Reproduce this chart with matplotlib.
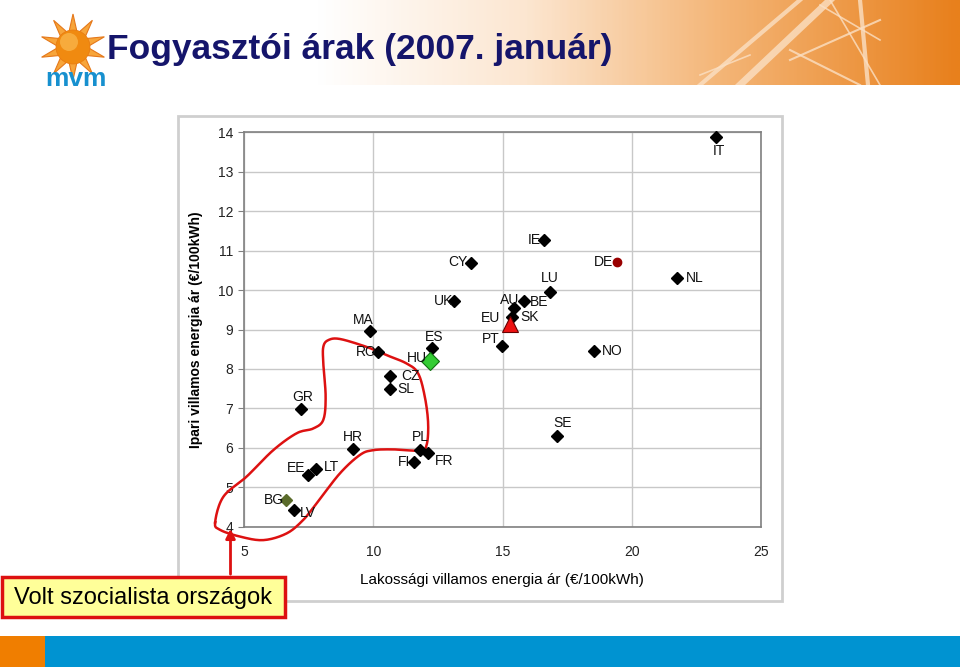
import numpy as np
import matplotlib
matplotlib.use('Agg')
import matplotlib.pyplot as plt
from matplotlib.patches import Rectangle, Polygon, Circle, FancyArrowPatch
from matplotlib.colors import LinearSegmentedColormap

plt.rcParams['font.family'] = ['Liberation Sans', 'DejaVu Sans']

# data
countries = ['BG', 'LV', 'EE', 'LT', 'GR', 'HR', 'MA', 'RO', 'ES', 'HU', 'CZ', 'SL',
             'PL', 'FI', 'FR', 'CY', 'UK', 'IE', 'DE', 'LU', 'NL', 'BE', 'AU', 'SK',
             'EU', 'PT', 'NO', 'SE', 'IT']
household = [6.61, 6.91, 7.48, 7.77, 7.19, 9.22, 9.86, 10.17, 12.27, 12.21, 10.65, 10.65,
             11.80, 11.58, 12.12, 13.77, 13.12, 16.61, 19.44, 16.84, 21.75, 15.82, 15.43, 15.37,
             15.28, 14.98, 18.54, 17.12, 23.28]
industry = [4.68, 4.42, 5.31, 5.46, 6.98, 5.97, 8.97, 8.42, 8.53, 8.20, 7.83, 7.50,
            5.95, 5.64, 5.86, 10.69, 9.72, 11.26, 10.70, 9.95, 10.31, 9.71, 9.55, 9.32,
            9.14, 8.57, 8.45, 6.31, 13.89]

# label placement (pixels offset, alignment)
label_pos = {
    'BG': (-2, 0, 'right'), 'LV': (6, -3, 'left'), 'EE': (-3, 7, 'right'),
    'LT': (8, 2, 'left'), 'GR': (2, 12, 'center'), 'HR': (0, 12, 'center'),
    'MA': (-7, 11, 'center'), 'RO': (-1, 0, 'right'), 'ES': (2, 11, 'center'),
    'HU': (-3, 3, 'right'), 'CZ': (11, 0, 'left'), 'SL': (7, 0, 'left'),
    'PL': (0, 13, 'center'), 'FI': (-4, 0, 'right'), 'FR': (7, -8, 'left'),
    'CY': (-3, 1, 'right'), 'UK': (-1, 0, 'right'), 'IE': (-3, 0, 'right'),
    'DE': (-4, 0, 'right'), 'LU': (0, 14, 'center'), 'NL': (9, 0, 'left'),
    'BE': (6, -1, 'left'), 'AU': (-4, 8, 'center'), 'SK': (8, 0, 'left'),
    'EU': (-9, 6, 'right'), 'PT': (-2, 7, 'right'), 'NO': (8, 0, 'left'),
    'SE': (5, 13, 'center'), 'IT': (3, -14, 'center'),
}

# hand drawn loop around former socialist countries (data coords)
loop_x = [3.87, 4.19, 5.09, 6.12, 7.03, 7.67, 8.06, 8.15, 8.06, 8.06, 8.25, 8.70, 9.73,
          10.51, 11.28, 11.73, 11.99, 12.12, 12.06, 11.80, 10.76, 9.99, 9.48, 8.70, 7.80,
          7.28, 6.64, 5.74, 4.83, 4.06]
loop_y = [4.11, 4.76, 5.27, 5.94, 6.37, 6.49, 6.71, 7.30, 8.14, 8.56, 8.73, 8.76, 8.56,
          8.35, 8.14, 7.89, 7.30, 6.62, 6.07, 5.93, 5.96, 5.94, 5.82, 5.35, 4.59,
          4.17, 3.83, 3.66, 3.75, 3.92]


def smooth_closed(xs, ys, n=12):
    # periodic catmull-rom through the given points
    p = np.column_stack([xs, ys])
    out = []
    m = len(p)
    for i in range(m):
        p0, p1, p2, p3 = p[i - 1], p[i], p[(i + 1) % m], p[(i + 2) % m]
        for t in np.linspace(0, 1, n, endpoint=False):
            t2, t3 = t * t, t * t * t
            out.append(0.5 * ((2 * p1) + (-p0 + p2) * t + (2 * p0 - 5 * p1 + 4 * p2 - p3) * t2
                              + (-p0 + 3 * p1 - 3 * p2 + p3) * t3))
    out.append(out[0])
    out = np.array(out)
    return out[:, 0], out[:, 1]


W, H = 960, 667
fig = plt.figure(figsize=(9.6, 6.67), dpi=100)
fig.patch.set_facecolor('white')

# header band with gradient
hdr = fig.add_axes([0, 1 - 85 / H, 1, 85 / H])
hdr.set_axis_off()
cmap = LinearSegmentedColormap.from_list('hdr', [(0, 'white'), (0.33, 'white'), (0.55, '#FCE6D0'),
                                                 (0.75, '#F4B678'), (1.0, '#E8801C')])
grad = np.tile(np.linspace(0, 1, 400), (10, 1))
hdr.imshow(grad, cmap=cmap, aspect='auto', extent=[0, W, 85, 0])
for (x0, y0, x1, y1, lw) in [(700, 85, 800, 0, 3), (740, 85, 830, 0, 5), (790, 60, 880, 20, 1.5),
                              (790, 50, 860, 85, 1.5), (830, 0, 880, 85, 1.2), (860, 0, 868, 85, 3),
                              (820, 5, 880, 40, 1.2), (700, 75, 750, 55, 1.2)]:
    hdr.plot([x0, x1], [y0, y1], color='#FBE0C4', lw=lw, alpha=0.8)
hdr.set_xlim(0, W)
hdr.set_ylim(85, 0)

# logo
logo = fig.add_axes([0, 1 - 100 / H, 130 / W, 100 / H])
logo.set_axis_off()
logo.set_xlim(0, 130)
logo.set_ylim(100, 0)
cx, cy = 73, 47
for k in range(10):
    a = np.pi / 2 + k * 2 * np.pi / 10
    tip = (cx + 33 * np.cos(a), cy - 33 * np.sin(a))
    b1 = (cx + 15 * np.cos(a + 0.28), cy - 15 * np.sin(a + 0.28))
    b2 = (cx + 15 * np.cos(a - 0.28), cy - 15 * np.sin(a - 0.28))
    logo.add_patch(Polygon([tip, b1, b2], closed=True, facecolor='#F7A53A', edgecolor='#E5781A', lw=0.8))
logo.add_patch(Circle((cx, cy), 17, facecolor='#F08A10', edgecolor='#E87A10', lw=0.5))
logo.add_patch(Circle((cx - 4, cy - 5), 9, facecolor='#F9B448', edgecolor='none', alpha=0.8))
logo.text(cx + 3, 79, 'mvm', ha='center', va='center', fontsize=19, fontweight='bold',
          color='#1790CF')

fig.text(107 / W, 1 - 50 / H, 'Fogyasztói árak (2007. január)', fontsize=25.5, color='#15156B',
         ha='left', va='center', fontweight='bold')

# chart frame
fig.patches.append(Rectangle((178 / W, 1 - 601 / H), 604 / W, 485 / H, transform=fig.transFigure,
                             facecolor='white', edgecolor='#CFCFCF', lw=2, zorder=-5))

ax = fig.add_axes([244.3 / W, 1 - 526.7 / H, 516.4 / W, 394.4 / H])
ax.patch.set_alpha(0)
ax.set_xlim(5, 25)
ax.set_ylim(4, 14)
ax.set_xticks([5, 10, 15, 20, 25])
ax.set_yticks(range(4, 15))
ax.grid(True, color='#C8C8C8', lw=1)
ax.set_axisbelow(True)
for s in ax.spines.values():
    s.set_color('#808080')
    s.set_linewidth(1.2)
ax.tick_params(axis='y', length=4, color='#808080', labelsize=10, pad=4, labelcolor='#222222')
ax.tick_params(axis='x', length=0, labelsize=10, pad=13, labelcolor='#222222')

styles = {'HU': dict(marker='D', ms=9.5, mfc='#33CC33', mec='#107010', mew=0.8),
          'EU': dict(marker='^', ms=11, mfc='#EE1111', mec='#660000', mew=0.8),
          'DE': dict(marker='o', ms=6, mfc='#990000', mec='#990000'),
          'BG': dict(marker='D', ms=6, mfc='#5A6B2A', mec='#5A6B2A')}
default = dict(marker='D', ms=6, mfc='black', mec='black')

for c, x, y in zip(countries, household, industry):
    st = styles.get(c, default)
    ax.plot([x], [y], ls='none', zorder=4, clip_on=False, **st)
    dx, dy, ha = label_pos[c]
    ax.annotate(c, (x, y), xytext=(dx, dy), textcoords='offset pixels', ha=ha, va='center',
                fontsize=10, color='#111111', zorder=5, annotation_clip=False)

lx, ly = smooth_closed(loop_x, loop_y)
ax.plot(lx, ly, color='#DD1111', lw=1.8, clip_on=False, zorder=3)

ax.set_ylabel('Ipari villamos energia ár (€/100kWh)', fontsize=10, fontweight='bold')
ax.yaxis.set_label_coords((203 - 244.3) / 516.4, 0.5)
ax.set_xlabel('Lakossági villamos energia ár (€/100kWh)', fontsize=11)
ax.xaxis.set_label_coords((502 - 244.3) / 516.4, -(573 - 526.7) / 394.4)

# callout box and arrow
fig.patches.append(Rectangle((2 / W, 1 - 617 / H), 283 / W, 40 / H, transform=fig.transFigure,
                             facecolor='#FFFF99', edgecolor='#DD1111', lw=2.5, zorder=5))
fig.text(143 / W, 1 - 598 / H, 'Volt szocialista országok', fontsize=17, ha='center', va='center',
         color='black', zorder=6)
fig.add_artist(FancyArrowPatch((230.5 / W, 1 - 577 / H), (230.5 / W, 1 - 526 / H),
                               transform=fig.transFigure, arrowstyle='-|>',
                               mutation_scale=14, color='#DD1111', lw=2, zorder=6))

# bottom band
fig.patches.append(Rectangle((0, 0), 45 / W, 31 / H, transform=fig.transFigure,
                             facecolor='#F07E00', edgecolor='none'))
fig.patches.append(Rectangle((45 / W, 0), 915 / W, 31 / H, transform=fig.transFigure,
                             facecolor='#0093D1', edgecolor='none'))

fig.savefig('out.png', dpi=100)
